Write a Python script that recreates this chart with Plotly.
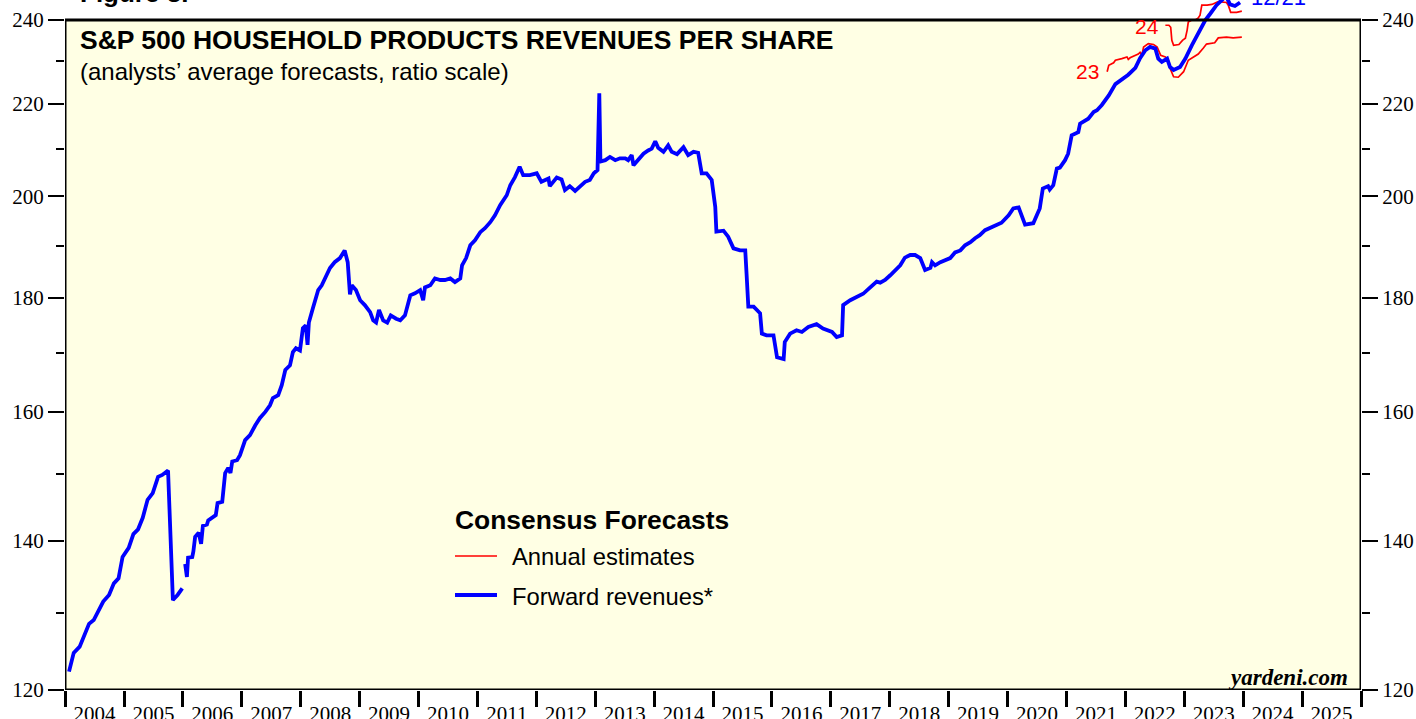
import math
import plotly.graph_objects as go
from datetime import datetime, timedelta

# ---------------- data (decimal years, revenues per share) ----------------
fwd_years = [2004.07, 2004.15, 2004.25, 2004.41, 2004.49, 2004.65, 2004.75, 2004.83, 2004.91, 2004.98,
             2005.08, 2005.16, 2005.24, 2005.32, 2005.40, 2005.49, 2005.58, 2005.65, 2005.75, 2005.83,
             2005.91, 2005.99, None,
             2006.04, 2006.07, 2006.09, 2006.16, 2006.18, 2006.21, 2006.27, 2006.31, 2006.34, 2006.41,
             2006.43, 2006.52, 2006.56, 2006.59, 2006.67, 2006.72, 2006.77, 2006.81, 2006.84, 2006.92,
             2006.97, 2007.06, 2007.14, 2007.23, 2007.31, 2007.40, 2007.48, 2007.53, 2007.62, 2007.68,
             2007.74, 2007.82, 2007.87, 2007.92, 2007.99, 2008.04, 2008.09, 2008.12, 2008.14, 2008.21,
             2008.30, 2008.36, 2008.43, 2008.50, 2008.58, 2008.67, 2008.75, 2008.80, 2008.84, 2008.87,
             2008.94, 2009.01, 2009.09, 2009.18, 2009.23, 2009.28, 2009.33, 2009.40, 2009.47, 2009.53,
             2009.62, 2009.69, 2009.77, 2009.86, 2009.94, 2010.03, 2010.08, 2010.11, 2010.20, 2010.28,
             2010.37, 2010.45, 2010.54, 2010.62, 2010.71, 2010.74, 2010.81, 2010.88, 2010.96, 2011.05,
             2011.13, 2011.22, 2011.30, 2011.39, 2011.50, 2011.56, 2011.64, 2011.72, 2011.78, 2011.89,
             2012.01, 2012.09, 2012.21, 2012.23, 2012.35, 2012.43, 2012.49, 2012.57, 2012.66, 2012.74,
             2012.83, 2012.91, 2012.98, 2013.04, 2013.07, 2013.09, 2013.17, 2013.25, 2013.34, 2013.42,
             2013.51, 2013.56, 2013.62, 2013.65, 2013.73, 2013.82, 2013.90, 2013.96, 2014.02, 2014.07,
             2014.16, 2014.24, 2014.30, 2014.39, 2014.50, 2014.58, 2014.67, 2014.75, 2014.81, 2014.89,
             2014.98, 2015.04, 2015.06, 2015.18, 2015.26, 2015.35, 2015.46, 2015.55, 2015.57, 2015.60,
             2015.69, 2015.77, 2015.80, 2015.83, 2015.91, 2016.03, 2016.09, 2016.20, 2016.22, 2016.31,
             2016.42, 2016.51, 2016.62, 2016.76, 2016.87, 2017.02, 2017.10, 2017.19, 2017.21, 2017.33,
             2017.44, 2017.55, 2017.67, 2017.78, 2017.84, 2017.92, 2018.01, 2018.09, 2018.18, 2018.26,
             2018.35, 2018.43, 2018.52, 2018.60, 2018.69, 2018.72, 2018.77, 2018.86, 2018.94, 2019.03,
             2019.11, 2019.20, 2019.28, 2019.37, 2019.45, 2019.53, 2019.62, 2019.70, 2019.79, 2019.90,
             2020.02, 2020.10, 2020.19, 2020.24, 2020.30, 2020.44, 2020.50, 2020.55, 2020.60, 2020.69,
             2020.72, 2020.78, 2020.84, 2020.89, 2020.98, 2021.03, 2021.09, 2021.20, 2021.23, 2021.29,
             2021.37, 2021.46, 2021.52, 2021.60, 2021.72, 2021.83, 2021.94, 2022.05, 2022.17, 2022.25,
             2022.34, 2022.42, 2022.51, 2022.56, 2022.62, 2022.71, 2022.76, 2022.82, 2022.93, 2023.02,
             2023.13, 2023.25, 2023.36, 2023.44, 2023.55, 2023.64, 2023.71, 2023.78, 2023.86, 2023.95]
fwd_values = [122.3, 124.7, 125.5, 128.5, 129.0, 131.5, 132.4, 134.0, 134.7, 137.7,
              139.0, 141.0, 141.7, 143.4, 146.1, 147.1, 149.6, 149.9, 150.6, 131.7,
              132.4, 133.3, None,
              136.7, 134.9, 137.6, 137.7, 138.5, 140.6, 141.2, 139.6, 142.2, 142.4,
              143.0, 143.5, 143.8, 145.6, 145.8, 150.2, 151.0, 150.2, 152.0, 152.2,
              153.0, 155.4, 156.2, 157.8, 159.0, 160.0, 161.1, 162.3, 162.8, 164.5,
              167.1, 167.9, 170.2, 170.9, 170.5, 174.5, 175.0, 171.5, 175.5, 178.1,
              181.5, 182.4, 184.3, 185.7, 186.8, 187.6, 189.1, 186.8, 180.7, 182.4,
              181.5, 179.6, 178.7, 177.4, 175.9, 175.5, 177.8, 175.9, 175.5, 176.8,
              176.2, 175.9, 176.8, 180.5, 180.9, 181.5, 179.6, 182.0, 182.4, 183.7,
              183.4, 183.4, 183.7, 183.0, 183.7, 186.2, 187.6, 190.1, 191.1, 192.7,
              193.5, 194.7, 196.1, 198.2, 200.2, 202.3, 204.0, 206.2, 204.4, 204.4,
              204.8, 203.0, 203.7, 202.1, 203.9, 203.5, 201.3, 202.1, 201.1, 201.9,
              203.0, 203.4, 204.8, 205.5, 222.5, 207.3, 207.6, 208.3, 207.6, 208.0,
              208.0, 207.6, 208.7, 206.5, 207.6, 209.0, 209.7, 210.1, 211.7, 210.3,
              209.4, 210.8, 209.4, 208.9, 210.4, 208.7, 209.4, 209.2, 204.8, 204.8,
              203.4, 197.8, 192.8, 193.0, 191.8, 189.5, 189.1, 189.1, 184.6, 178.4,
              178.4, 177.5, 177.2, 173.5, 173.2, 173.2, 169.3, 169.0, 172.0, 173.5,
              174.1, 173.8, 174.7, 175.2, 174.4, 173.8, 172.9, 173.2, 178.7, 179.6,
              180.2, 180.8, 182.0, 183.1, 182.9, 183.4, 184.3, 185.3, 186.2, 187.7,
              188.2, 188.2, 187.6, 185.3, 185.7, 186.8, 186.2, 186.8, 187.2, 187.6,
              188.7, 189.1, 190.1, 190.7, 191.5, 192.1, 193.1, 193.5, 193.9, 194.6,
              196.1, 197.5, 197.7, 196.1, 194.2, 194.5, 196.1, 197.5, 201.6, 202.1,
              201.4, 202.3, 205.8, 206.0, 207.6, 209.0, 213.0, 213.7, 215.6, 216.0,
              216.7, 218.2, 218.6, 219.8, 222.0, 224.6, 225.7, 226.8, 228.4, 230.7,
              232.6, 233.4, 233.0, 230.6, 229.8, 230.6, 228.6, 227.9, 228.6, 230.6,
              233.8, 237.1, 240.0, 241.5, 243.7, 245.0, 246.0, 243.9, 243.5, 244.4]

est23_years = [2021.69, 2021.72, 2021.80, 2021.83, 2021.94, 2022.03, 2022.05, 2022.08, 2022.22, 2022.25,
               2022.28, 2022.31, 2022.39, 2022.48, 2022.54, 2022.60, 2022.68, 2022.73, 2022.76, 2022.82,
               2022.90, 2022.99, 2023.07, 2023.16, 2023.24, 2023.33, 2023.38, 2023.52, 2023.58, 2023.72,
               2023.83, 2023.98]
est23_values = [227.5, 229.0, 229.6, 230.2, 230.6, 231.0, 230.4, 230.8, 231.7, 232.1,
                231.4, 233.4, 234.2, 234.0, 233.4, 231.4, 231.0, 230.2, 228.3, 226.3,
                226.2, 227.5, 230.2, 231.0, 231.7, 233.2, 234.1, 234.4, 235.6, 235.8,
                235.6, 235.8]

est24_years = [2022.68, 2022.74, 2022.77, 2022.79, 2022.82, 2022.91, 2022.97, 2023.02, 2023.05, 2023.07,
               2023.13, 2023.19, 2023.24, 2023.27, 2023.30, 2023.39, 2023.47, 2023.53, 2023.58, 2023.72,
               2023.75, 2023.79, 2023.89, 2023.98]
est24_values = [238.7, 238.7, 238.2, 235.0, 233.8, 234.0, 235.0, 235.5, 237.5, 239.5,
                240.0, 240.0, 240.5, 241.2, 243.7, 243.7, 243.9, 244.4, 244.6, 244.4,
                243.7, 241.9, 241.9, 242.2]

y_ticks = [120, 140, 160, 180, 200, 220, 240]
y_minor = [130, 150, 170, 190, 210, 230]


def to_date(y):
    if y is None:
        return None
    yr = int(y)
    d = datetime(yr, 1, 1) + timedelta(days=(y - yr) * 365.25)
    return d.strftime("%Y-%m-%d")


SERIF = "Liberation Serif, Times New Roman, serif"
SANS = "Liberation Sans, Arial, sans-serif"
BG = "#FFFFE4"

fig = go.Figure()
fig.add_trace(go.Scatter(x=[to_date(v) for v in est23_years], y=est23_values, mode="lines",
                         line=dict(color="#FF0000", width=1.7), hoverinfo="skip"))
fig.add_trace(go.Scatter(x=[to_date(v) for v in est24_years], y=est24_values, mode="lines",
                         line=dict(color="#FF0000", width=1.7), hoverinfo="skip"))
fig.add_trace(go.Scatter(x=[to_date(v) for v in fwd_years], y=fwd_values, mode="lines",
                         line=dict(color="#0000FF", width=3.8), connectgaps=False, hoverinfo="skip"))
# carrier for the right-hand axis
fig.add_trace(go.Scatter(x=[None], y=[None], yaxis="y2", showlegend=False, hoverinfo="skip"))

ylo = math.log10(120)
yhi = math.log10(120) + (690 / 670) * math.log10(2)

yax = dict(type="log", range=[ylo, yhi], tickvals=y_ticks, ticktext=[str(t) for t in y_ticks],
           ticks="outside", ticklen=16, tickwidth=1.5, tickcolor="black", automargin=False,
           minor=dict(tickvals=y_minor, ticks="outside", ticklen=8, tickwidth=1.5, tickcolor="black"),
           showgrid=False, zeroline=False, showline=False,
           tickfont=dict(family=SERIF, size=21, color="black"))

fig.update_layout(
    width=1416, height=719,
    margin=dict(l=65, r=55, t=0, b=29, autoexpand=False),
    paper_bgcolor="white", plot_bgcolor="rgba(0,0,0,0)",
    showlegend=False,
    xaxis=dict(type="date", range=["2004-01-01", "2026-01-01"], dtick="M12", tick0="2004-01-01",
               tickformat="%Y", ticklabelmode="period", ticks="outside", ticklen=16, tickwidth=3,
               tickcolor="black", showgrid=False, zeroline=False, showline=False, automargin=False,
               ticklabelstandoff=-11,
               tickfont=dict(family=SERIF, size=21, color="black")),
    yaxis=yax,
    yaxis2=dict(yax, overlaying="y", side="right", matches="y"),
)

# plot box background and frame
fig.add_shape(type="rect", xref="x", yref="y", x0="2004-01-01", x1="2026-01-01", y0=120, y1=240,
              fillcolor=BG, line=dict(width=0), layer="below")
fig.add_shape(type="rect", xref="x", yref="y", x0="2004-01-01", x1="2026-01-01", y0=120, y1=240,
              fillcolor="rgba(0,0,0,0)", line=dict(color="black", width=3), layer="above")


def px(xp):
    return (xp - 65) / 1296.0


def py(yp):
    return (690 - yp) / 690.0


ann = []
ann.append(dict(text="<b>Figure 3.</b>", x=px(78), y=py(-7), xanchor="left", yanchor="middle",
                font=dict(family=SANS, size=26, color="black")))
ann.append(dict(text="<b>S&P 500 HOUSEHOLD PRODUCTS REVENUES PER SHARE</b>", x=px(78), y=py(40),
                xanchor="left", yanchor="middle", font=dict(family=SANS, size=26.5, color="black")))
ann.append(dict(text="(analysts’ average forecasts, ratio scale)", x=px(78), y=py(71),
                xanchor="left", yanchor="middle", font=dict(family=SANS, size=24, color="black")))
ann.append(dict(text="<b>Consensus Forecasts</b>", x=px(453), y=py(520), xanchor="left", yanchor="middle",
                font=dict(family=SANS, size=26.4, color="black")))
ann.append(dict(text="Annual estimates", x=px(510), y=py(556), xanchor="left", yanchor="middle",
                font=dict(family=SANS, size=23.8, color="black")))
ann.append(dict(text="Forward revenues*", x=px(510), y=py(596), xanchor="left", yanchor="middle",
                font=dict(family=SANS, size=23.8, color="black")))
ann.append(dict(text="<b><i>yardeni.com</i></b>", x=px(1350), y=py(677), xanchor="right", yanchor="middle",
                font=dict(family=SERIF, size=23, color="black")))
ann.append(dict(text="23", x=px(1087), y=py(72), xanchor="center", yanchor="middle",
                font=dict(family=SANS, size=21, color="#FF0000")))
ann.append(dict(text="24", x=px(1147), y=py(27), xanchor="center", yanchor="middle",
                font=dict(family=SANS, size=21, color="#FF0000")))
ann.append(dict(text="12/21", x=px(1249), y=py(-3), xanchor="left", yanchor="middle",
                font=dict(family=SANS, size=22, color="#0000FF")))
for a in ann:
    a.update(xref="paper", yref="paper", showarrow=False)
fig.update_layout(annotations=ann)

# legend sample lines
fig.add_shape(type="line", xref="paper", yref="paper", x0=px(455), x1=px(497), y0=py(556), y1=py(556),
              line=dict(color="#FF0000", width=1.7))
fig.add_shape(type="line", xref="paper", yref="paper", x0=px(455), x1=px(497), y0=py(595), y1=py(595),
              line=dict(color="#0000FF", width=3.8))

fig.write_html("out.html", config={"displayModeBar": False},
               post_script="document.body.style.margin='0';document.body.style.overflow='hidden';")
